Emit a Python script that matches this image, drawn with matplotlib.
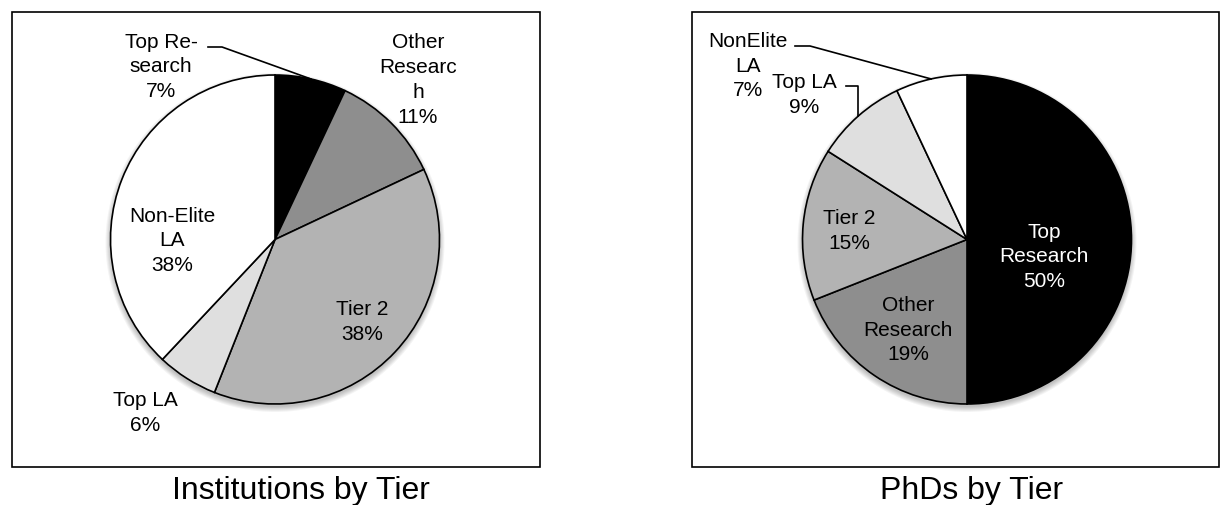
import numpy as np
import matplotlib
matplotlib.use("Agg")
import matplotlib.pyplot as plt
from matplotlib.patches import Circle, Rectangle

plt.rcParams['font.family'] = ['Liberation Sans', 'DejaVu Sans']

W, H = 1231, 505

# Institutions by tier (clockwise from 12 o'clock)
inst_names = ["Top Re-\nsearch", "Other\nResearc\nh", "Tier 2", "Top LA", "Non-Elite\nLA"]
inst_values = [7, 11, 38, 6, 38]

# PhDs by tier (clockwise from 12 o'clock)
phd_names = ["Top\nResearch", "Other\nResearch", "Tier 2", "Top LA", "NonElite\nLA"]
phd_values = [50, 19, 15, 9, 7]

tier_colors = ["#000000", "#8e8e8e", "#b3b3b3", "#dfdfdf", "#ffffff"]

fig = plt.figure(figsize=(W / 100, H / 100), dpi=100)
ax = fig.add_axes([0, 0, 1, 1])


def fy(y):
    # work in pixel rows measured from the top
    return H - y


def rim_point(cx, cy, r, values, i):
    frac = (sum(values[:i]) + values[i] / 2) / sum(values)
    ang = 2 * np.pi * frac
    return cx + r * np.sin(ang), fy(cy) + r * np.cos(ang)


def draw_panel(cx, cy, r, values, box_x0, box_x1):
    ax.add_patch(Rectangle((box_x0, fy(467)), box_x1 - box_x0, 467 - 12,
                           fill=False, edgecolor="black", linewidth=1.2, zorder=0))
    # soft drop shadow under the pie
    for k in range(6):
        ax.add_patch(Circle((cx, fy(cy) - 3), r + 5 - k, facecolor="black",
                            edgecolor="none", alpha=0.045, zorder=1))
    ax.pie(values, colors=tier_colors, startangle=90, counterclock=False,
           center=(cx, fy(cy)), radius=r, frame=True,
           wedgeprops=dict(edgecolor="black", linewidth=1.2, zorder=2))


R = 164.5
draw_panel(275, 239.5, R, inst_values, 12, 540)
draw_panel(967, 239.5, R, phd_values, 692, 1219)

fs = 15


def label(x, y, name, val, color="black"):
    ax.text(x, fy(y), f"{name}\n{val}%", ha="center", va="center",
            fontsize=fs, color=color, linespacing=1.38, zorder=5)


# left pie labels
label(161, 67, inst_names[0], inst_values[0])
label(418, 80, inst_names[1], inst_values[1])
label(362, 322, inst_names[2], inst_values[2])
label(145, 413, inst_names[3], inst_values[3])
label(172, 241, inst_names[4], inst_values[4])

px, py = rim_point(275, 239.5, R, inst_values, 0)
ax.plot([208, 222, px], [fy(47), fy(47), py], color="black", lw=1.2, zorder=4)

# right pie labels
label(1044, 257, phd_names[0], phd_values[0], color="white")
label(908, 330, phd_names[1], phd_values[1])
label(849, 231, phd_names[2], phd_values[2])
label(804, 95, phd_names[3], phd_values[3])
label(748, 66, phd_names[4], phd_values[4])

px, py = rim_point(967, 239.5, R, phd_values, 4)
ax.plot([795, 810, px], [fy(46), fy(46), py], color="black", lw=1.2, zorder=4)
px, py = rim_point(967, 239.5, R, phd_values, 3)
ax.plot([846, px, px], [fy(86), fy(86), py], color="black", lw=1.2, zorder=4)

ax.text(301, fy(499), "Institutions by Tier", ha="center", va="baseline", fontsize=23)
ax.text(972, fy(499), "PhDs by Tier", ha="center", va="baseline", fontsize=23)

ax.set_xlim(0, W)
ax.set_ylim(0, H)
ax.set_aspect("auto")
ax.set_axis_off()

fig.savefig("out.png", dpi=100, facecolor="white")
